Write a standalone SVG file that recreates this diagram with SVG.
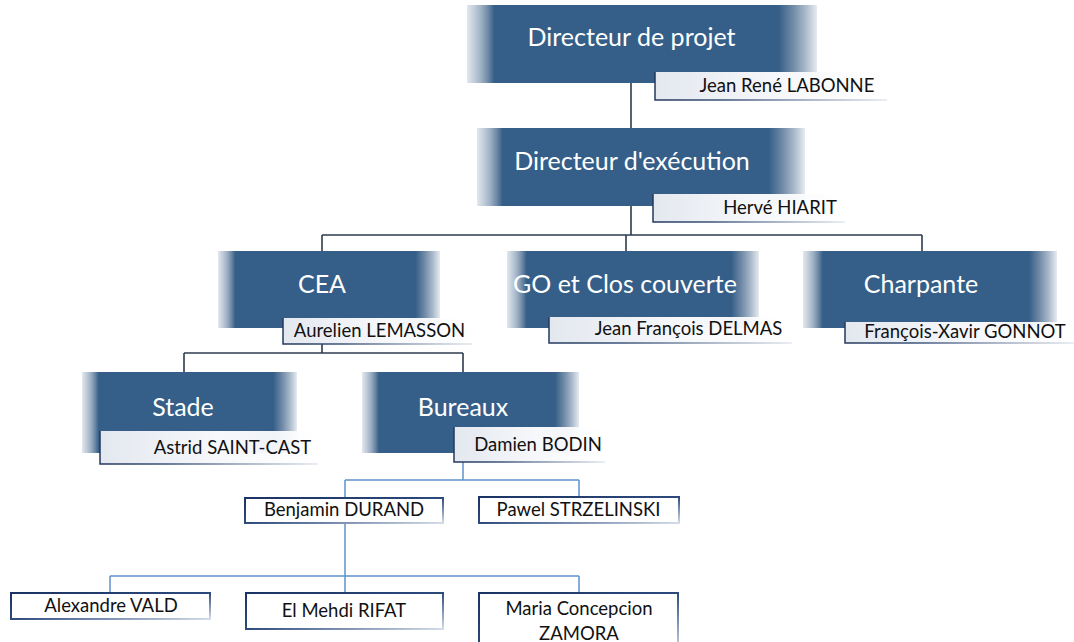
<svg xmlns="http://www.w3.org/2000/svg" width="1074" height="642" viewBox="0 0 1074 642">
<defs>
<linearGradient id="boxFade" x1="0" y1="0" x2="1" y2="0">
<stop offset="0" stop-color="#e3e8ee"/>
<stop offset="0.02" stop-color="#c2cedb"/>
<stop offset="0.04" stop-color="#9fb1c5"/>
<stop offset="0.06" stop-color="#6f89a6"/>
<stop offset="0.078" stop-color="#355f88"/>
<stop offset="0.89" stop-color="#355f88"/>
<stop offset="0.93" stop-color="#6f89a6"/>
<stop offset="0.965" stop-color="#a5b6c8"/>
<stop offset="1" stop-color="#e6ebf0"/>
</linearGradient>
<linearGradient id="nameFill" x1="0" y1="0" x2="1" y2="0">
<stop offset="0" stop-color="#e3e8ef"/>
<stop offset="0.55" stop-color="#f7f8fb"/>
<stop offset="1" stop-color="#ffffff" stop-opacity="0.9"/>
</linearGradient>
<linearGradient id="nameTop" x1="0" y1="0" x2="1" y2="0">
<stop offset="0" stop-color="#c9d2de"/>
<stop offset="1" stop-color="#ffffff" stop-opacity="0"/>
</linearGradient>
<linearGradient id="nameEdge" x1="0" y1="0" x2="1" y2="0">
<stop offset="0" stop-color="#23385f"/>
<stop offset="0.3" stop-color="#3d5479"/>
<stop offset="1" stop-color="#e4e9f0"/>
</linearGradient>
<linearGradient id="personEdge" x1="0" y1="0" x2="1" y2="1">
<stop offset="0" stop-color="#1b3264"/>
<stop offset="0.5" stop-color="#2d4a7c"/>
<stop offset="1" stop-color="#d3dce8"/>
</linearGradient>
<style>
.big{fill:url(#boxFade);}
.title{font-family:Lato,"Liberation Sans",sans-serif;font-size:25px;fill:#ffffff;text-anchor:middle;}
.nbox{fill:url(#nameFill);stroke:none;}
.ntop{fill:none;stroke:url(#nameTop);stroke-width:1;}
.nedge{fill:none;stroke:url(#nameEdge);stroke-width:1.5;}
.name{font-family:Lato,"Liberation Sans",sans-serif;font-size:18.5px;fill:#111111;text-anchor:middle;}
.pbox{fill:#ffffff;stroke:url(#personEdge);stroke-width:2;}
.dark{fill:none;stroke:#2e3b4e;stroke-width:1.6;}
.blue{fill:none;stroke:#5f93cc;stroke-width:1.5;}
</style>
</defs>
<rect width="1074" height="642" fill="#ffffff"/>
<g id="connectors">
<path class="dark" d="M631 83V128"/>
<path class="dark" d="M631 206V235M322 235H922M322 235V251M626 235V251M922 235V251"/>
<path class="dark" d="M322 328V353M184 353H463M184 353V372M463 353V372"/>
<path class="blue" d="M463 462V480M345 480H579M345 480V498M579 480V497"/>
<path class="blue" d="M345 523V576M110 576H579M110 576V593M345 576V593M579 576V593"/>
</g>
<g id="n-directeur-projet">
<rect class="big" x="467" y="5" width="350" height="78"/>
<text class="title" x="631.5" y="46">Directeur de projet</text>
<rect class="nbox" x="655" y="72" width="232" height="28"/>
<path class="ntop" d="M655 72H887"/>
<path class="nedge" d="M655 72V100H887"/>
<text class="name" x="787" y="92">Jean René LABONNE</text>
</g>
<g id="n-directeur-execution">
<rect class="big" x="477" y="128" width="328" height="78"/>
<text class="title" x="632" y="170">Directeur d'exécution</text>
<rect class="nbox" x="653" y="194" width="192" height="28"/>
<path class="ntop" d="M653 194H845"/>
<path class="nedge" d="M653 194V222H845"/>
<text class="name" x="780" y="214">Hervé HIARIT</text>
</g>
<g id="n-cea">
<rect class="big" x="218" y="251" width="222" height="77"/>
<text class="title" x="322" y="293">CEA</text>
<rect class="nbox" x="283" y="318" width="189" height="26"/>
<path class="ntop" d="M283 318H472"/>
<path class="nedge" d="M283 318V344H472"/>
<text class="name" x="379.5" y="337">Aurelien LEMASSON</text>
</g>
<g id="n-go">
<rect class="big" x="507" y="251" width="252" height="77"/>
<text class="title" x="625" y="293">GO et Clos couverte</text>
<rect class="nbox" x="549" y="317" width="243" height="26"/>
<path class="ntop" d="M549 317H792"/>
<path class="nedge" d="M549 317V343H792"/>
<text class="name" x="688.5" y="335">Jean François DELMAS</text>
</g>
<g id="n-charpante">
<rect class="big" x="803" y="251" width="254" height="77"/>
<text class="title" x="921" y="293">Charpante</text>
<rect class="nbox" x="845" y="322" width="229" height="21"/>
<path class="ntop" d="M845 322H1074"/>
<path class="nedge" d="M845 322V343H1074"/>
<text class="name" x="965" y="338">François-Xavir GONNOT</text>
</g>
<g id="n-stade">
<rect class="big" x="82" y="372" width="215" height="81"/>
<text class="title" x="183" y="416">Stade</text>
<rect class="nbox" x="100" y="431" width="218" height="33"/>
<path class="ntop" d="M100 431H318"/>
<path class="nedge" d="M100 431V464H318"/>
<text class="name" x="232.5" y="454">Astrid SAINT-CAST</text>
</g>
<g id="n-bureaux">
<rect class="big" x="362" y="372" width="217" height="81"/>
<text class="title" x="463" y="416">Bureaux</text>
<rect class="nbox" x="454" y="427" width="151" height="35"/>
<path class="ntop" d="M454 427H605"/>
<path class="nedge" d="M454 427V462H605"/>
<text class="name" x="538" y="451">Damien BODIN</text>
</g>
<g id="n-benjamin">
<rect class="pbox" x="245" y="498" width="198" height="25"/>
<text class="name" x="344" y="516">Benjamin DURAND</text>
</g>
<g id="n-pawel">
<rect class="pbox" x="479" y="497" width="200" height="26"/>
<text class="name" x="578.5" y="516">Pawel STRZELINSKI</text>
</g>
<g id="n-alexandre">
<rect class="pbox" x="11" y="593" width="199" height="26"/>
<text class="name" x="111" y="612">Alexandre VALD</text>
</g>
<g id="n-elmehdi">
<rect class="pbox" x="246" y="593" width="197" height="36"/>
<text class="name" x="344" y="617">El Mehdi RIFAT</text>
</g>
<g id="n-maria">
<rect class="pbox" x="479" y="593" width="199" height="60"/>
<text class="name" x="579" y="615">Maria Concepcion</text>
<text class="name" x="579" y="640">ZAMORA</text>
</g>
</svg>
